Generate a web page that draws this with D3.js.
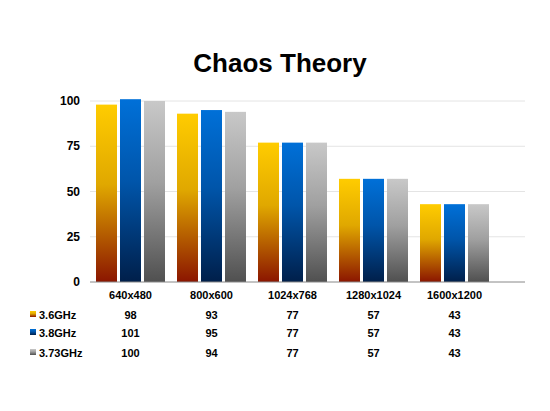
<!DOCTYPE html><html><head><script src="https://d3js.org/d3.v7.min.js"></script>
<style>body{margin:0;background:#fff}text{font-family:Arial,"Liberation Sans",sans-serif;font-weight:bold}</style></head><body><script>
const categories=["640x480","800x600","1024x768","1280x1024","1600x1200"];
const seriesNames=["3.6GHz","3.8GHz","3.73GHz"];
const s36=[98,93,77,57,43];
const s38=[101,95,77,57,43];
const s373=[100,94,77,57,43];
const yTicks=[0,25,50,75,100];
const series=[s36,s38,s373];
const grads=[["#FFCC00","#E0A800","#8B1500"],["#0070D8","#0055AA","#001F4A"],["#C8C8C8","#A0A0A0","#505050"]];
const svg=d3.select("body").append("svg").attr("width",550).attr("height",411);
const defs=svg.append("defs");
grads.forEach((g,i)=>{const lg=defs.append("linearGradient").attr("id","g"+i).attr("x1",0).attr("x2",0).attr("y1",0).attr("y2",1);
lg.append("stop").attr("offset","0%").attr("stop-color",g[0]);lg.append("stop").attr("offset","45%").attr("stop-color",g[1]);lg.append("stop").attr("offset","100%").attr("stop-color",g[2]);});
svg.append("text").attr("x",280).attr("y",72).attr("text-anchor","middle").style("font-size","26px").text("Chaos Theory");
const y=d3.scaleLinear().domain([0,100]).range([282,101]);
const x=d3.scaleBand().domain(categories).range([90,495]).paddingInner(0).paddingOuter(0);
const xs=d3.scaleBand().domain([0,1,2]).range([0,69]).paddingInner(0.125);
svg.append("g").selectAll("line").data(yTicks.slice(1)).join("line").attr("x1",90).attr("x2",525).attr("y1",d=>y(d)).attr("y2",d=>y(d)).attr("stroke","#e4e4e4");
svg.append("g").selectAll("text").data(yTicks).join("text").attr("x",80).attr("y",d=>y(d)+4).attr("text-anchor","end").style("font-size","12px").text(d=>d);
series.forEach((s,i)=>{svg.append("g").selectAll("rect").data(s).join("rect")
.attr("x",(d,j)=>x(categories[j])+x.bandwidth()/2-34.5+xs(i)).attr("width",xs.bandwidth())
.attr("y",d=>y(d)).attr("height",d=>282-y(d)).attr("fill","url(#g"+i+")");});
svg.append("line").attr("x1",90).attr("x2",525).attr("y1",282).attr("y2",282).attr("stroke","#888");
svg.append("g").selectAll("text").data(categories).join("text").attr("x",d=>x(d)+x.bandwidth()/2).attr("y",299).attr("text-anchor","middle").style("font-size","11px").text(d=>d);
const rowY=[319,337,357];
series.forEach((s,i)=>{
svg.append("rect").attr("x",30).attr("y",rowY[i]-8).attr("width",6).attr("height",6).attr("fill","url(#g"+i+")");
svg.append("text").attr("x",39).attr("y",rowY[i]).style("font-size","11px").text(seriesNames[i]);
svg.append("g").selectAll("text").data(s).join("text").attr("x",(d,j)=>x(categories[j])+x.bandwidth()/2).attr("y",rowY[i]).attr("text-anchor","middle").style("font-size","11px").text(d=>d);});
</script></body></html>
